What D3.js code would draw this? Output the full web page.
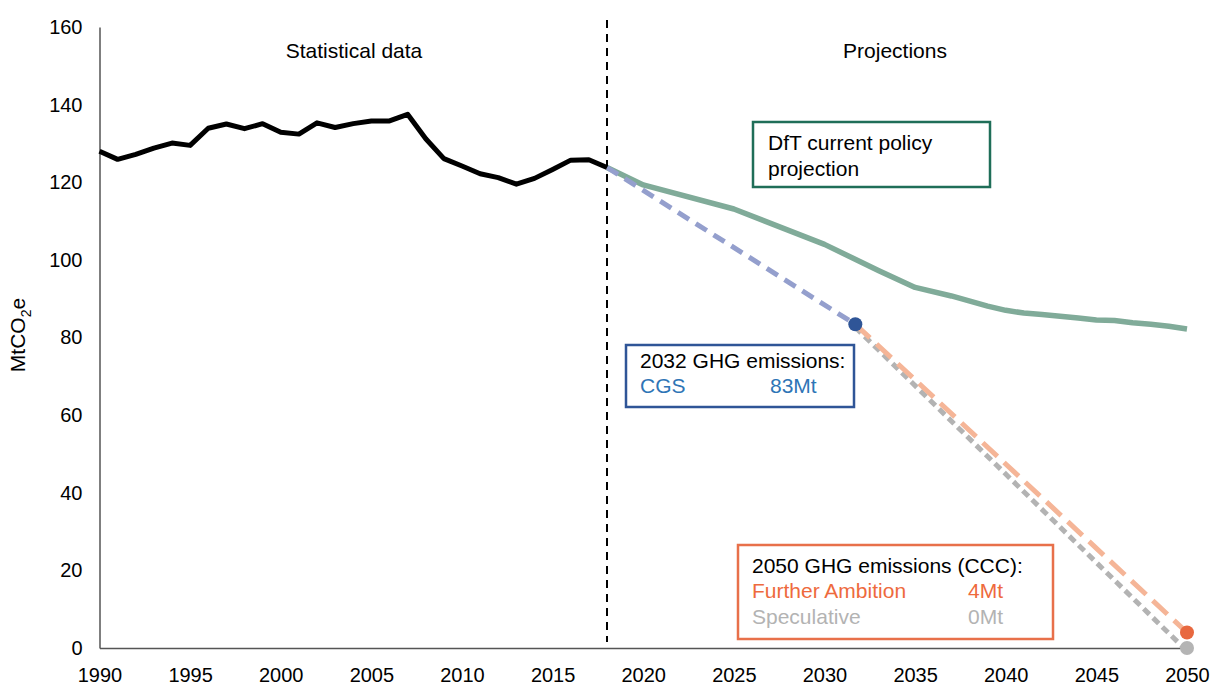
<!DOCTYPE html>
<html>
<head>
<meta charset="utf-8">
<script src="https://cdn.jsdelivr.net/npm/d3@7"></script>
<style>
  body { margin: 0; background: #fff; }
  svg text { font-family: "Liberation Sans", Arial, sans-serif; }
</style>
</head>
<body>
<div id="chart"></div>
<script>
// Chart size
const width = 1219;
const height = 699;

// Historical emissions (statistical data), MtCO2e
const histYears = [1990, 1991, 1992, 1993, 1994, 1995, 1996, 1997, 1998, 1999, 2000, 2001, 2002, 2003, 2004,
  2005, 2006, 2007, 2008, 2009, 2010, 2011, 2012, 2013, 2014, 2015, 2016, 2017, 2018];
const histValues = [128.0, 125.9, 127.2, 128.8, 130.1, 129.5, 133.9, 135.0, 133.8, 135.1, 132.9, 132.4, 135.3, 134.1, 135.1,
  135.8, 135.8, 137.5, 131.2, 126.1, 124.2, 122.2, 121.2, 119.5, 121.0, 123.3, 125.7, 125.8, 123.8];

// DfT current policy projection
const dftYears = [2018, 2020, 2025, 2030, 2033, 2035, 2037, 2039, 2040, 2041, 2042, 2043, 2044, 2045, 2046, 2047, 2048, 2049, 2050];
const dftValues = [123.8, 119.3, 113.1, 104.0, 97.2, 92.9, 90.7, 88.1, 87.0, 86.3, 85.9, 85.5, 85.0, 84.5, 84.4, 83.8, 83.4, 82.9, 82.2];

// CGS pathway to 2032
const cgsYears = [2018, 2031.7];
const cgsValues = [123.8, 83.4];

// CCC 2050 pathways
const furtherYears = [2031.7, 2050];
const furtherValues = [83.4, 4];
const specYears = [2031.7, 2050];
const specValues = [83.4, 0];

const xTicks = [1990, 1995, 2000, 2005, 2010, 2015, 2020, 2025, 2030, 2035, 2040, 2045, 2050];
const yTicks = [0, 20, 40, 60, 80, 100, 120, 140, 160];
const splitYear = 2018;

const x = d3.scaleLinear().domain([1990, 2050]).range([99.5, 1187]);
const y = d3.scaleLinear().domain([0, 160]).range([648, 27]);

const svg = d3.select("#chart").append("svg")
  .attr("width", width)
  .attr("height", height);

// axes
const yAxis = svg.append("g")
  .attr("transform", `translate(${x(1990)},0)`)
  .call(d3.axisLeft(y).tickValues(yTicks).tickSize(0).tickPadding(17));
const xAxis = svg.append("g")
  .attr("transform", `translate(0,${y(0)})`)
  .call(d3.axisBottom(x).tickValues(xTicks).tickFormat(d3.format("d")).tickSize(0).tickPadding(20));
[xAxis, yAxis].forEach(g => {
  g.select(".domain").attr("stroke", "#555").attr("stroke-width", 1.5);
  g.selectAll("text").attr("font-size", 20).attr("fill", "#000")
    .attr("font-family", "Liberation Sans, Arial, sans-serif");
});

// y label
const yl = svg.append("text")
  .attr("transform", "translate(25,335) rotate(-90)")
  .attr("text-anchor", "middle")
  .attr("font-size", 21);
yl.append("tspan").text("MtCO");
yl.append("tspan").attr("font-size", 14).attr("dy", 6).text("2");
yl.append("tspan").attr("dy", -6).text("e");

// split line
svg.append("line")
  .attr("x1", x(splitYear)).attr("x2", x(splitYear))
  .attr("y1", 20).attr("y2", y(0) - 6)
  .attr("stroke", "#000").attr("stroke-width", 2)
  .attr("stroke-dasharray", "8,6");

svg.append("text").attr("x", 354).attr("y", 58).attr("text-anchor", "middle")
  .attr("font-size", 21).text("Statistical data");
svg.append("text").attr("x", 895).attr("y", 58).attr("text-anchor", "middle")
  .attr("font-size", 21).text("Projections");

function drawLine(xs, ys, color, w, dash) {
  const pts = xs.map((d, i) => [d, ys[i]]);
  const p = svg.append("path")
    .datum(pts)
    .attr("fill", "none")
    .attr("stroke", color)
    .attr("stroke-width", w)
    .attr("stroke-linejoin", "round")
    .attr("d", d3.line().x(d => x(d[0])).y(d => y(d[1])));
  if (dash) p.attr("stroke-dasharray", dash);
  return p;
}

drawLine(dftYears, dftValues, "#80ab99", 5.5);
drawLine(cgsYears, cgsValues, "#949fcd", 5, "13,8");
drawLine(specYears, specValues, "#b3b3b3", 5, "8,5").attr("transform", "translate(0,3)");
drawLine(furtherYears, furtherValues, "#f5b597", 5, "20,9");
drawLine(histYears, histValues, "#000", 5);

// end points
svg.append("circle").attr("cx", x(2050)).attr("cy", y(specValues[1])).attr("r", 7).attr("fill", "#b4b4b4");
svg.append("circle").attr("cx", x(2050)).attr("cy", y(furtherValues[1])).attr("r", 7).attr("fill", "#e8683f");
svg.append("circle").attr("cx", x(cgsYears[1])).attr("cy", y(cgsValues[1])).attr("r", 7).attr("fill", "#2f5597");

// annotation boxes
function box(x0, y0, w, h, stroke) {
  svg.append("rect").attr("x", x0).attr("y", y0).attr("width", w).attr("height", h)
    .attr("fill", "#fff").attr("stroke", stroke).attr("stroke-width", 2.5);
}
function label(tx, ty, str, color) {
  svg.append("text").attr("x", tx).attr("y", ty).attr("font-size", 21)
    .attr("fill", color || "#000").text(str);
}

box(753, 122, 237, 65, "#1f6e58");
label(768, 150, "DfT current policy");
label(768, 176, "projection");

box(626, 345, 228, 62, "#2f5597");
label(640, 368, "2032 GHG emissions:");
label(640, 393, "CGS", "#2e75b6");
label(770, 393, "83Mt", "#2e75b6");

box(738, 545, 315, 94, "#e8704a");
label(752, 573, "2050 GHG emissions (CCC):");
label(752, 598, "Further Ambition", "#ee6a3d");
label(968, 598, "4Mt", "#ee6a3d");
label(752, 624, "Speculative", "#b3b3b3");
label(968, 624, "0Mt", "#b3b3b3");
</script>
</body>
</html>
